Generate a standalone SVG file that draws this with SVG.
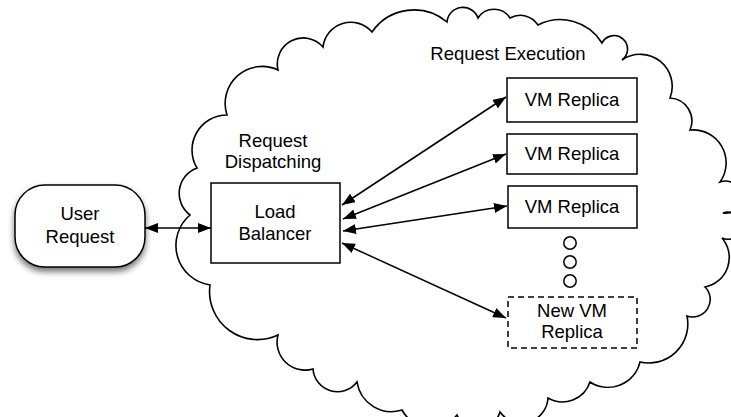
<svg xmlns="http://www.w3.org/2000/svg" width="731" height="417" viewBox="0 0 731 417">
<style>
  .box { fill: #ffffff; stroke: #000000; stroke-width: 1.5; }
  .dash { stroke-dasharray: 6 4; }
  .lbl { font-family: "Liberation Sans", Arial, Helvetica, sans-serif; font-size: 18.5px; fill: #000000; text-anchor: middle; }
  .edge { stroke: #000000; stroke-width: 1.5; fill: none; marker-start: url(#ah); marker-end: url(#ah); }
  .cloud { fill: #ffffff; stroke: #000000; stroke-width: 1.6; stroke-linejoin: miter; }
  .dot { fill: #ffffff; stroke: #000000; stroke-width: 1.5; }
</style>
<defs>
  <marker id="ah" viewBox="0 0 13 10" refX="13" refY="5" markerWidth="13" markerHeight="10" markerUnits="userSpaceOnUse" orient="auto-start-reverse">
    <path d="M0,0 L13,5 L0,10 z" fill="#000000"/>
  </marker>
  <filter id="shadow" x="-20%" y="-20%" width="140%" height="150%">
    <feDropShadow dx="0" dy="4" stdDeviation="3" flood-color="#000000" flood-opacity="0.55"/>
  </filter>
</defs>
<rect width="731" height="417" fill="#ffffff"/>

<g id="cloud">
  <path class="cloud" d="M227,115 A37 37 0 0 1 278 70 A26 26 0 0 1 323 47 A28 28 0 0 1 372 32 A51 51 0 0 1 447 22 A16 16 0 0 1 478 18 A19 19 0 0 1 510 18 A21 21 0 0 1 538 25 A49 49 0 0 1 602 43 A13.5 13.5 0 1 1 622 60 A32 32 0 0 1 670 98 A23 23 0 0 1 690 130 A33 33 0 0 1 720 182 A16 16 0 1 1 723 213 A13.5 13.5 0 1 1 722 238 A30 30 0 0 1 705 287 A17.5 17.5 0 0 1 687 316 A39 39 0 0 1 640 362 A33 33 0 0 1 590 382 A29 29 0 0 1 548 398 A26.5 26.5 0 0 1 500 412 A23 23 0 0 1 457 415 A33 33 0 0 1 402 410 A35 35 0 0 1 357 382 A24.5 24.5 0 0 1 313 369 A28 28 0 0 1 278 335 A48 48 0 0 1 210 285 A40 40 0 0 1 190 215 A27 27 0 0 1 197 168 A35 35 0 0 1 227 115 Z"/>
  <text class="lbl" x="508" y="60">Request Execution</text>
  <text class="lbl" x="273" y="147">Request</text>
  <text class="lbl" x="273" y="168">Dispatching</text>
</g>

<g id="connectors">
  <line class="edge" x1="145" y1="228" x2="211" y2="228"/>
  <line class="edge" x1="342" y1="205" x2="506" y2="97"/>
  <line class="edge" x1="343" y1="219" x2="506" y2="154"/>
  <line class="edge" x1="343" y1="231" x2="507" y2="206"/>
  <line class="edge" x1="342" y1="243" x2="506" y2="318"/>
</g>

<g id="user-request">
  <rect class="box" x="15" y="185" width="130" height="82" rx="30" ry="30" filter="url(#shadow)"/>
  <text class="lbl" x="80" y="220">User</text>
  <text class="lbl" x="80" y="243">Request</text>
</g>

<g id="load-balancer">
  <rect class="box" x="211" y="183" width="129" height="80"/>
  <text class="lbl" x="275" y="218">Load</text>
  <text class="lbl" x="275" y="240">Balancer</text>
</g>

<g id="vm-replica-1">
  <rect class="box" x="507" y="78" width="130" height="44"/>
  <text class="lbl" x="572" y="106">VM Replica</text>
</g>

<g id="vm-replica-2">
  <rect class="box" x="507" y="134" width="130" height="40"/>
  <text class="lbl" x="572" y="160">VM Replica</text>
</g>

<g id="vm-replica-3">
  <rect class="box" x="508" y="186" width="129" height="42"/>
  <text class="lbl" x="572" y="213">VM Replica</text>
</g>

<g id="ellipsis">
  <circle class="dot" cx="570" cy="243" r="6.2"/>
  <circle class="dot" cx="570" cy="262" r="6.2"/>
  <circle class="dot" cx="570" cy="281" r="6.2"/>
</g>

<g id="new-vm-replica">
  <rect class="box dash" x="508" y="297" width="129" height="51"/>
  <text class="lbl" x="572" y="317">New VM</text>
  <text class="lbl" x="572" y="338">Replica</text>
</g>
</svg>
